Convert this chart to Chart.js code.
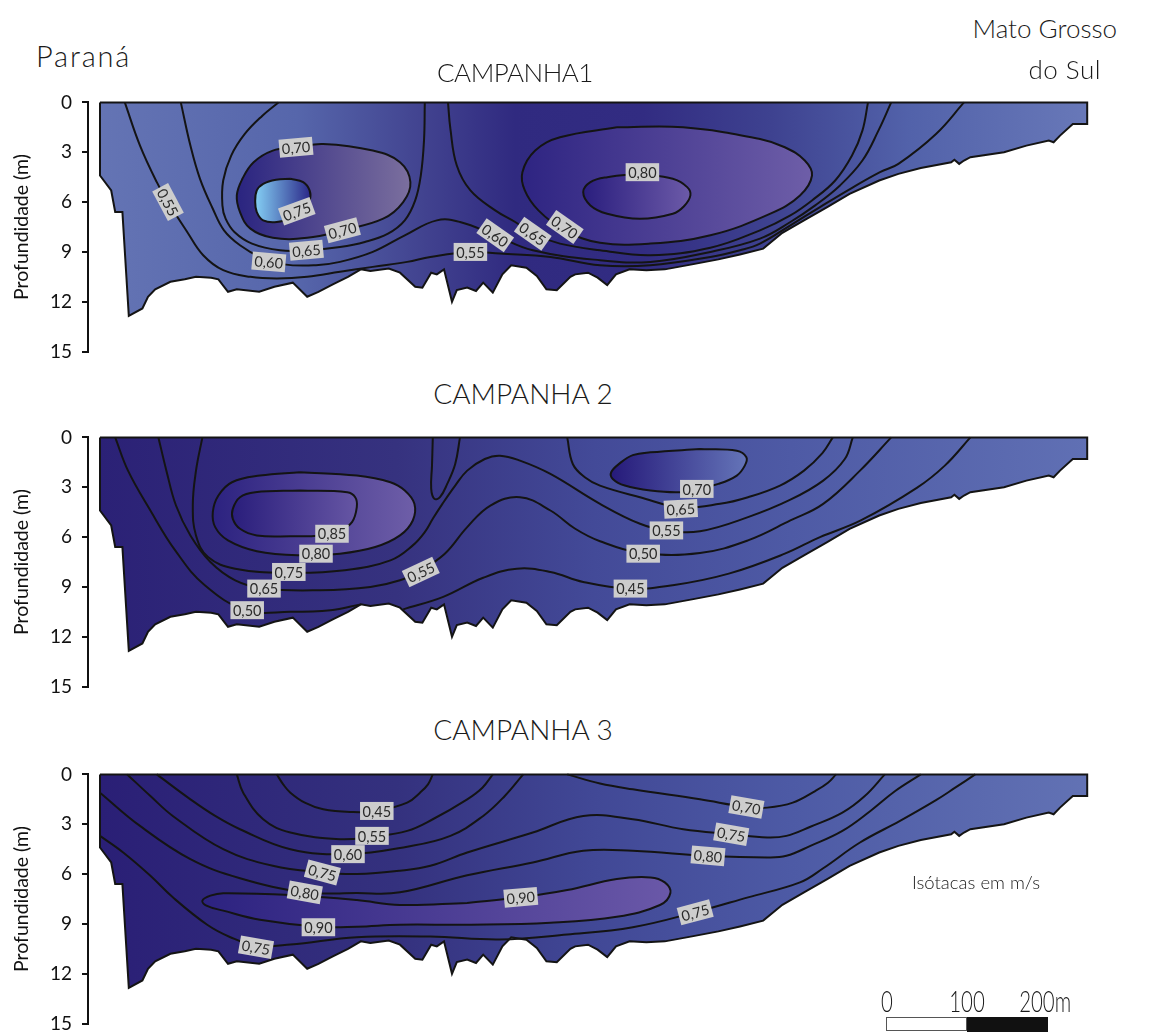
<!DOCTYPE html>
<html><head><meta charset="utf-8">
<script src="https://cdn.jsdelivr.net/npm/chart.js@4.4.0/dist/chart.umd.min.js"></script>
<style>
body{margin:0;width:1149px;height:1035px;background:#fff;position:relative;overflow:hidden;font-family:Lato,'Noto Sans',sans-serif;}
canvas{position:absolute;left:0;}
.t{position:absolute;color:#1a1a1a;white-space:nowrap;line-height:1;z-index:5;font-weight:300;}
.c{text-align:center;width:400px;}
</style></head><body>
<canvas id="c1" width="1149" height="292" style="top:81px"></canvas>
<canvas id="c2" width="1149" height="292" style="top:416px"></canvas>
<canvas id="c3" width="1149" height="292" style="top:753px"></canvas>

<div class="t" style="left:36px;top:41px;font-size:29px;letter-spacing:1.8px">Paraná</div>
<div class="t" style="right:32px;top:15px;font-size:26px">Mato Grosso</div>
<div class="t" style="right:48px;top:56px;font-size:26px;letter-spacing:0.5px">do Sul</div>
<div class="t c" style="left:315px;top:59px;font-size:26px;letter-spacing:-0.5px">CAMPANHA1</div>
<div class="t c" style="left:323px;top:379px;font-size:28px">CAMPANHA 2</div>
<div class="t c" style="left:323px;top:715px;font-size:28px">CAMPANHA 3</div>
<div class="t" style="left:912px;top:873px;font-size:18.5px">Isótacas em m/s</div>
<div class="t" style="left:867px;top:985px;width:40px;text-align:center;font-size:30px;transform:scaleX(0.68)">0</div>
<div class="t" style="left:937px;top:985px;width:60px;text-align:center;font-size:30px;transform:scaleX(0.68)">100</div>
<div class="t" style="left:1008px;top:985px;width:70px;text-align:center;font-size:30px;transform:scaleX(0.68)">200m</div>
<div style="position:absolute;left:886px;top:1017px;width:79px;height:12px;border:1.5px solid #555;background:#fff"></div>
<div style="position:absolute;left:967px;top:1017px;width:81px;height:15px;background:#111"></div>

<script>
// ---------- data (distance in m, depth in m) ----------
const depthTicks = [0, 3, 6, 9, 12, 15];

const bedProfile = [[0,0],[0,4.4],[14,5.3],[19,6.6],[28,6.6],[36,12.85],[53,12.4],[60,11.7],[69,11.25],[88,10.8],[106,10.65],[120,10.5],[139,10.55],[148,10.65],[160,11.4],[171,11.25],[199,11.4],[218,11.1],[241,10.85],[259,11.7],[273,11.4],[291,10.95],[310,10.5],[326,10.05],[338,10.15],[361,10.0],[375,10.25],[394,11.1],[403,11.15],[414,10.25],[421,10.35],[430,10.05],[440,12.0],[446,11.3],[459,11.15],[470,11.35],[479,10.85],[491,11.45],[503,10.35],[514,9.8],[533,9.95],[546,10.45],[558,11.25],[571,11.3],[588,10.5],[594,10.35],[610,10.25],[622,10.55],[634,11.0],[645,10.35],[662,10.05],[683,10.1],[706,10.05],[740,9.75],[773,9.45],[800,9.15],[829,8.8],[853,7.85],[880,7.1],[909,6.3],[937,5.5],[974,4.7],[998,4.3],[1026,3.95],[1064,3.6],[1068,3.45],[1074,3.7],[1080,3.5],[1088,3.3],[1130,3.0],[1158,2.6],[1186,2.3],[1192,2.4],[1200,2.0],[1216,1.3],[1234,1.3],[1234,0]];

// Campanha 1
const c1Iso055 = [[31,0],[50,2.6],[71,4.8],[85,6.0],[109,7.8],[129,9.2],[154,10.1],[188,10.5],[221,10.6],[259,10.5],[300,10.2],[341,9.9],[384,9.6],[413,9.3],[463,9.0],[500,9.1],[563,9.3],[625,9.8],[688,9.8],[763,9.3],[800,8.9],[825,8.5],[863,7.4],[900,6.3],[938,5.2],[975,4.2],[998,3.7],[1045,1.9],[1080,0]];
const c1Iso060 = [[101,0],[113,2.6],[125,4.6],[141,6.4],[155,7.7],[175,8.6],[200,9.3],[230,9.75],[270,9.8],[300,9.6],[341,9.0],[381,8.0],[421,7.1],[450,7.2],[494,8.0],[541,8.9],[625,9.5],[688,9.6],[763,9.0],[825,8.2],[863,7.2],[894,6.2],[925,5.0],[953,3.5],[973,1.7],[989,0]];
const c1Iso065a = [[223,0],[203,0.8],[181,1.9],[164,3.2],[154,4.7],[153,6.2],[157,7.0],[168,7.8],[190,8.5],[225,8.9],[259,8.9],[300,8.7],[331,8.4],[360,7.9],[381,7.1],[394,5.9],[401,4.4],[405,2.3],[406,0]];
const c1Iso065b = [[435,0],[438,1.6],[446,3.8],[463,5.3],[494,6.5],[519,7.2],[541,7.9],[575,8.5],[625,8.9],[688,9.2],[763,8.75],[825,7.7],[863,6.8],[890,5.9],[919,4.7],[940,3.2],[953,1.7],[960,0]];
const c1Iso070a = [[245,2.7],[279,2.5],[341,2.9],[375,3.6],[388,4.8],[379,6.0],[354,7.0],[303,7.7],[259,8.15],[216,8.15],[188,7.6],[175,6.6],[171,5.6],[178,4.6],[192,3.6],[216,2.9],[245,2.7]];
const c1Iso075 = [[238,4.6],[254,4.8],[262,5.3],[262,5.9],[253,6.4],[240,6.9],[221,7.2],[204,7.1],[196,6.6],[194,6.0],[196,5.3],[204,4.9],[220,4.65],[238,4.6]];
const c1Iso070b = [[646,1.5],[729,1.5],[825,2.2],[856,2.7],[881,3.5],[890,4.4],[875,5.6],[838,6.7],[763,8.0],[688,8.5],[625,8.45],[581,7.7],[548,6.5],[531,5.3],[528,4.2],[544,2.9],[575,2.1],[646,1.5]];
const c1Iso080 = [[675,4.3],[716,4.6],[734,5.1],[738,5.6],[730,6.25],[716,6.7],[675,7.0],[634,6.7],[613,6.2],[604,5.4],[613,4.8],[634,4.5],[675,4.3]];
const c1Labels = [['0,55',85,6.0,62],['0,70',245,2.7,-5],['0,75',246,6.55,-20],['0,70',303,7.7,-15],['0,65',258,8.9,-5],['0,60',211,9.6,5],['0,55',463,9.0,0],['0,60',494,8.0,35],['0,65',541,7.9,35],['0,70',581,7.5,35],['0,80',678,4.2,0]];

// Campanha 2
const c2Iso085 = [[250,3.2],[309,3.3],[319,3.6],[321,4.2],[315,5.1],[300,5.6],[275,5.9],[238,5.95],[196,5.9],[175,5.5],[166,4.9],[166,4.3],[175,3.6],[194,3.3],[250,3.2]];
const c2Iso080 = [[250,2.1],[321,2.3],[363,2.7],[381,3.2],[393,4.0],[391,5.0],[375,5.9],[344,6.6],[300,7.0],[250,7.1],[196,6.85],[160,6.2],[144,5.4],[141,4.5],[148,3.5],[165,2.7],[200,2.3],[250,2.1]];
const c2Iso075 = [[128,0],[120,2.0],[116,4.1],[120,5.9],[135,7.2],[169,7.9],[236,8.15],[306,8.0],[363,7.4],[391,6.5],[406,5.7],[416,4.9],[428,4.0],[444,2.9],[459,2.0],[481,1.3],[500,1.1],[525,1.4],[563,2.2],[625,4.0],[675,5.2],[708,5.6],[750,5.65],[810,4.8],[863,3.75],[904,2.6],[931,1.3],[941,0]];
const c2Iso072 = [[416,0],[415,1.7],[414,3.1],[418,3.7],[425,3.6],[434,2.8],[444,1.6],[450,0]];
const c2Iso065 = [[73,0],[83,2.0],[95,4.1],[113,5.9],[138,7.5],[169,8.6],[205,9.1],[275,9.2],[338,9.0],[375,8.6],[401,8.0],[431,7.0],[459,5.4],[488,4.1],[525,3.6],[563,4.4],[594,5.5],[625,6.25],[679,6.96],[750,6.96],[810,6.2],[863,5.0],[904,4.0],[950,2.0],[989,0]];
const c2Iso050 = [[19,0],[35,2.0],[63,4.4],[94,6.8],[131,8.9],[183,10.4],[238,10.5],[288,10.4],[326,10.05]];
const c2Iso045 = [[379,10.35],[429,9.6],[479,8.45],[521,7.9],[563,8.1],[604,8.7],[661,9.1],[716,8.9],[786,8.2],[856,7.0],[900,6.0],[951,5.0],[1021,3.04],[1056,1.7],[1088,0]];
const c2Iso065r = [[584,0],[591,1.6],[606,2.4],[625,2.9],[675,3.6],[725,4.2],[775,4.0],[810,3.6],[850,2.9],[880,2.0],[903,0.95],[916,0]];
const c2Iso070 = [[750,0.7],[796,0.8],[808,1.2],[806,1.7],[796,2.3],[773,2.8],[746,3.1],[725,3.3],[688,3.2],[656,2.9],[641,2.5],[639,2.1],[650,1.55],[666,1.07],[688,0.9],[750,0.7]];
const c2Labels = [['0,85',290,5.8,0],['0,80',270,7.0,0],['0,75',236,8.1,0],['0,65',205,9.1,0],['0,50',184,10.4,0],['0,55',401,8.1,-25],['0,70',746,3.1,0],['0,65',726,4.3,-3],['0,55',708,5.6,0],['0,50',679,7.0,0],['0,45',663,9.1,0]];

// Campanha 3
const c3Iso045 = [[221,0],[229,0.6],[238,1.1],[256,1.7],[279,2.1],[313,2.26],[346,2.2],[384,1.7],[400,1.1],[410,0.6],[416,0]];
const c3Iso055 = [[171,0],[179,1.1],[204,2.7],[238,3.5],[300,3.9],[340,3.75],[384,3.4],[416,2.7],[459,1.5],[478,0.8],[491,0]];
const c3Iso060 = [[71,0],[113,1.5],[144,2.5],[175,3.3],[238,4.5],[310,4.8],[384,4.35],[438,3.7],[479,2.5],[506,1.3],[529,0]];
const c3Iso075a = [[34,0],[63,1.3],[91,2.5],[154,4.5],[216,5.5],[278,5.9],[321,6.0],[375,5.8],[413,5.5],[459,4.7],[541,3.5],[604,2.5],[666,2.7],[729,3.3],[789,3.6],[834,3.8],[858,3.7],[888,3.15],[928,2.3],[956,1.3],[981,0]];
const c3Iso080 = [[0,1.1],[50,3.1],[113,5.1],[175,6.25],[256,7.1],[321,7.14],[375,7.1],[459,6.07],[541,5.3],[604,4.6],[666,4.6],[760,4.9],[834,5.0],[858,4.9],[888,4.3],[928,3.4],[963,2.2],[994,1.0],[1026,0]];
const c3Iso070 = [[584,0],[625,0.55],[666,0.9],[750,1.5],[808,1.96],[834,2.0],[866,1.7],[894,1.0],[910,0.5],[920,0]];
const c3Iso075b = [[0,3.7],[29,4.7],[63,6.1],[91,7.4],[134,9.05],[163,9.8],[195,10.3],[238,10.24],[321,9.8],[413,9.76],[500,9.94],[584,9.64],[666,9.2],[744,8.3],[810,7.4],[875,6.5],[904,5.65],[950,4.1],[1000,2.8],[1045,1.55],[1069,0.8],[1094,0]];
const c3Iso090 = [[459,7.74],[526,7.4],[584,6.96],[646,6.3],[688,6.2],[706,6.5],[713,7.14],[700,7.86],[646,8.57],[563,8.93],[459,9.05],[375,9.05],[321,9.17],[273,9.17],[200,8.75],[154,8.2],[133,7.9],[128,7.6],[138,7.3],[154,7.15],[238,7.26],[321,7.56],[375,7.86],[459,7.74]];
const c3Labels = [['0,45',346,2.2,0],['0,55',340,3.7,0],['0,60',310,4.8,0],['0,75',278,5.9,15],['0,80',256,7.1,10],['0,90',273,9.2,0],['0,75',195,10.4,10],['0,90',526,7.4,-5],['0,70',808,1.96,10],['0,75',789,3.6,10],['0,80',760,4.9,5],['0,75',744,8.3,-15]];

// ---------- rendering ----------
const FONT = "Lato, 'Noto Sans', 'DejaVu Sans', sans-serif";
const toXY = a => a.map(([x, y]) => ({x, y}));
const xExtent = a => [Math.min(...a.map(p => p[0])), Math.max(...a.map(p => p[0]))];

function hGrad(chart, x0, x1, stops) {
  const {ctx, chartArea, scales} = chart;
  if (!chartArea) return 'rgba(0,0,0,0)';
  const g = ctx.createLinearGradient(scales.x.getPixelForValue(x0), 0, scales.x.getPixelForValue(x1), 0);
  stops.forEach(([f, c]) => g.addColorStop(f, c));
  return g;
}

const labelPlugin = {
  id: 'isoLabels',
  afterDatasetsDraw(chart, args, opts) {
    const {ctx, scales: {x, y}} = chart;
    ctx.save();
    ctx.font = '14.5px ' + FONT;
    ctx.textAlign = 'center';
    ctx.textBaseline = 'middle';
    for (const [txt, xv, dv, ang] of opts.items) {
      const px = x.getPixelForValue(xv), py = y.getPixelForValue(dv);
      ctx.save();
      ctx.translate(px, py);
      ctx.rotate(ang * Math.PI / 180);
      const w = ctx.measureText(txt).width + 5, h = 18;
      ctx.fillStyle = '#cdcdcd';
      ctx.fillRect(-w / 2, -h / 2, w, h);
      ctx.fillStyle = '#2a2a2a';
      ctx.fillText(txt, 0, 1);
      ctx.restore();
    }
    ctx.restore();
  }
};

function makePanel(id, cfg) {
  const section = [...bedProfile, bedProfile[0]];
  const [sx0, sx1] = xExtent(bedProfile);
  const common = {pointRadius: 0, pointHoverRadius: 0, clip: false};
  const datasets = [];
  datasets.push({...common, data: toXY(section), fill: 'shape', tension: 0, borderWidth: 0,
    backgroundColor: c => hGrad(c.chart, sx0, sx1, cfg.base), order: 100});
  cfg.regions.forEach((r, i) => {
    const [a, b] = xExtent(r.pts);
    datasets.push({...common, data: toXY(r.pts), fill: 'shape', tension: 0.4, borderWidth: 2, borderColor: '#141414',
      backgroundColor: c => hGrad(c.chart, a, b, r.colors), order: 90 - i});
  });
  cfg.lines.forEach(l => datasets.push({...common, data: toXY(l), fill: false, tension: 0.4, borderWidth: 2, borderColor: '#141414', order: 10}));
  datasets.push({...common, data: toXY(section), fill: false, tension: 0, borderWidth: 2, borderColor: '#141414', order: 0});

  new Chart(document.getElementById(id), {
    type: 'line',
    data: {datasets},
    plugins: [labelPlugin],
    options: {
      responsive: false, animation: false, events: [],
      layout: {padding: {top: 20, bottom: 20, left: 0, right: 49}},
      plugins: {legend: {display: false}, tooltip: {enabled: false}, title: {display: false},
        isoLabels: {items: cfg.labels}},
      scales: {
        x: {type: 'linear', min: -15, max: 1250, display: false},
        y: {type: 'linear', reverse: true, min: 0, max: 15,
          afterFit: s => { s.width = 88; },
          afterBuildTicks: s => { s.ticks = depthTicks.map(v => ({value: v})); },
          ticks: {color: '#111', font: {size: 19, family: FONT}, padding: 10},
          grid: {drawOnChartArea: false, drawTicks: true, tickLength: 6, color: '#111', lineWidth: 2},
          border: {display: true, color: '#111', width: 2},
          title: {display: true, text: 'Profundidade (m)', color: '#111', font: {size: 19.5, family: FONT}, padding: {top: 10, bottom: 0}}
        }
      }
    }
  });
}

makePanel('c1', {
  base: [[0,'#6474b4'],[0.2,'#5666ab'],[0.33,'#41428f'],[0.42,'#302a80'],[0.55,'#322c82'],[0.68,'#3e4290'],[0.82,'#5262aa'],[1,'#6878b8']],
  regions: [
    {pts: c1Iso070a, colors: [[0,'#2a2480'],[1,'#7b6f9e']]},
    {pts: c1Iso070b, colors: [[0,'#2e2482'],[1,'#6e5ea8']]},
    {pts: c1Iso075, colors: [[0,'#84cff4'],[1,'#2c2a8a']]},
    {pts: c1Iso080, colors: [[0,'#2a1e7e'],[1,'#6c5aa8']]}
  ],
  lines: [c1Iso055, c1Iso060, c1Iso065a, c1Iso065b],
  labels: c1Labels
});

makePanel('c2', {
  base: [[0,'#2b2176'],[0.3,'#36327f'],[0.5,'#434a98'],[0.7,'#4e5aa5'],[1,'#6070b4']],
  regions: [
    {pts: c2Iso080, colors: [[0,'#2c2280'],[1,'#6e5ea8']]},
    {pts: c2Iso070, colors: [[0,'#261a7a'],[1,'#6474b8']]},
    {pts: c2Iso085, colors: [[0,'#2a1e7c'],[1,'#6656a4']]}
  ],
  lines: [c2Iso075, c2Iso072, c2Iso065, c2Iso050, c2Iso045, c2Iso065r],
  labels: c2Labels
});

makePanel('c3', {
  base: [[0,'#2a1f76'],[0.3,'#34317e'],[0.5,'#414896'],[0.7,'#4d5aa5'],[1,'#6272b4']],
  regions: [
    {pts: c3Iso090, colors: [[0,'#2c2280'],[1,'#6a58a8']]}
  ],
  lines: [c3Iso045, c3Iso055, c3Iso060, c3Iso075a, c3Iso080, c3Iso070, c3Iso075b],
  labels: c3Labels
});
</script>
</body></html>
